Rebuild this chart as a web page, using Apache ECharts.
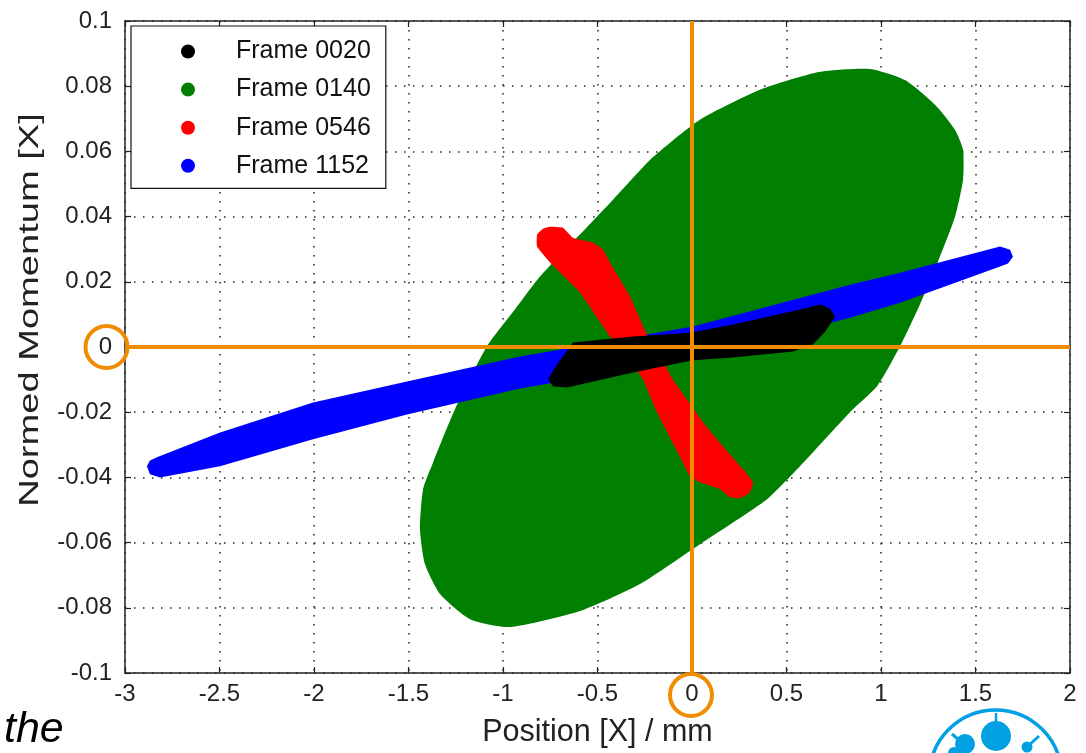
<!DOCTYPE html>
<html>
<head>
<meta charset="utf-8">
<script src="https://cdn.jsdelivr.net/npm/echarts@6/dist/echarts.min.js"></script>
<style>
html,body{margin:0;padding:0;background:#fff;}
#chart{width:1086px;height:753px;}
</style>
</head>
<body>
<div id="chart"></div>
<script>
// ---- data ----
const seriesNames = ['Frame 0020', 'Frame 0140', 'Frame 0546', 'Frame 1152'];
const xTickLabels = ['-3', '-2.5', '-2', '-1.5', '-1', '-0.5', '0', '0.5', '1', '1.5', '2'];
const yTickLabels = ['-0.1', '-0.08', '-0.06', '-0.04', '-0.02', '0', '0.02', '0.04', '0.06', '0.08', '0.1'];
const xAxisTitle = 'Position [X] / mm';
const yAxisTitle = 'Normed Momentum [X]';
const xMin = -3, xMax = 2, xStep = 0.5;
const yMin = -0.1, yMax = 0.1, yStep = 0.02;

// Frame 0140 (green region outline)
const frame0140 = [
  [0.942, 0.0853], [1.127, 0.0819], [1.286, 0.0743], [1.392, 0.0666], [1.434, 0.0605],
  [1.434, 0.0513], [1.392, 0.0400], [1.302, 0.0262], [1.206, 0.0130], [1.101, 0.0002],
  [0.980, -0.0120], [0.836, -0.0200], [0.571, -0.0366], [0.397, -0.0467], [0.042, -0.0605],
  [-0.275, -0.0727], [-0.593, -0.0810], [-0.963, -0.0859], [-1.175, -0.0835], [-1.333, -0.0758],
  [-1.413, -0.0666], [-1.439, -0.0559], [-1.423, -0.0436], [-1.370, -0.0354], [-1.254, -0.0191],
  [-1.085, 0.0002], [-0.937, 0.0115], [-0.804, 0.0216], [-0.593, 0.0345], [-0.418, 0.0452],
  [-0.222, 0.0574], [0.042, 0.0697], [0.360, 0.0789], [0.677, 0.0844]
];
// Frame 1152 (blue band outline)
const frame1152 = [
  [-2.868, -0.0348], [-2.831, -0.0338], [-2.497, -0.0262], [-2.005, -0.0170], [-1.508, -0.0106],
  [-0.910, -0.0029], [0.005, 0.0063], [0.836, 0.0191], [1.101, 0.0228], [1.630, 0.0308],
  [1.683, 0.0298], [1.698, 0.0277], [1.672, 0.0256], [1.630, 0.0247], [1.101, 0.0136],
  [0.836, 0.0090], [0.005, -0.0035], [-0.910, -0.0127], [-1.508, -0.0207], [-2.005, -0.0283],
  [-2.497, -0.0366], [-2.815, -0.0400], [-2.868, -0.0390], [-2.884, -0.0366]
];
// Frame 0546 (red band outline)
const frame0546 = [
  [-0.751, 0.0369], [-0.683, 0.0366], [-0.630, 0.0335], [-0.524, 0.0320], [-0.471, 0.0299],
  [-0.434, 0.0259], [-0.328, 0.0155], [-0.238, 0.0038], [-0.159, -0.0038], [-0.101, -0.0100],
  [0.058, -0.0231], [0.164, -0.0305], [0.270, -0.0375], [0.323, -0.0415], [0.307, -0.0446],
  [0.254, -0.0464], [0.201, -0.0461], [0.148, -0.0436], [0.042, -0.0415], [-0.011, -0.0397],
  [-0.048, -0.0354], [-0.185, -0.0201], [-0.259, -0.0100], [-0.328, -0.0038], [-0.434, 0.0032],
  [-0.593, 0.0167], [-0.751, 0.0259], [-0.820, 0.0308], [-0.820, 0.0345], [-0.788, 0.0363]
];
// Frame 0020 (black region outline)
const frame0020 = [
  [-0.630, 0.0014], [-0.312, 0.0032], [-0.011, 0.0044], [0.217, 0.0069], [0.571, 0.0115],
  [0.677, 0.0130], [0.730, 0.0118], [0.757, 0.0093], [0.704, 0.0047], [0.640, 0.0008],
  [0.534, -0.0014], [0.217, -0.0032], [0.005, -0.0041], [-0.312, -0.0078], [-0.661, -0.0124],
  [-0.735, -0.0121], [-0.762, -0.0100], [-0.714, -0.0054]
];
// highlighted zero lines: [x1, y1, x2, y2]
const zeroLines = [[0, -0.1, 0, 0.1], [-3, 0, 2, 0]];

const colors = { 'Frame 0020': '#000000', 'Frame 0140': '#007F00', 'Frame 0546': '#FF0000', 'Frame 1152': '#0000FF' };
const smoothing = { 'Frame 0020': 0, 'Frame 0140': 0.2, 'Frame 0546': 0.1, 'Frame 1152': 0 };
const orange = '#F08C00';
const FONT = "'Liberation Sans', Arial, sans-serif";

function polySeries(name, pts, z) {
  return {
    name: name, type: 'custom', z: z,
    itemStyle: { color: colors[name] },
    data: pts,
    encode: { x: 0, y: 1 },
    renderItem: function (params, api) {
      if (params.dataIndex !== 0) return null;
      const p = pts.map(function (d) { return api.coord(d); });
      return { type: 'polygon', shape: { points: p, smooth: smoothing[name] }, style: { fill: colors[name] } };
    },
    silent: true
  };
}

const chart = echarts.init(document.getElementById('chart'), null, { renderer: 'canvas' });
const gridCfg = { left: 125, right: 16, top: 21, bottom: 79 };

const axisCommon = {
  axisLine: { show: true, onZero: false, lineStyle: { color: '#222', width: 1.5 } },
  axisTick: { show: true, inside: true, length: 6, lineStyle: { color: '#222', width: 1.2 } },
  splitLine: { show: false }
};

const option = {
  animation: false,
  backgroundColor: '#fff',
  grid: gridCfg,
  legend: {
    data: seriesNames.map(function (n) { return { name: n, icon: 'circle', itemStyle: { color: colors[n] } }; }),
    orient: 'vertical',
    left: 131, top: 26,
    padding: [13, 15, 10, 50],
    itemWidth: 86, itemHeight: 14, itemGap: 13.1,
    backgroundColor: '#fff',
    borderColor: '#111', borderWidth: 1.2,
    selectedMode: false,
    textStyle: { fontFamily: FONT, fontSize: 25, color: '#111', lineHeight: 25 }
  },
  xAxis: [
    Object.assign({}, axisCommon, {
      type: 'value', min: xMin, max: xMax, interval: xStep, position: 'bottom',
      name: xAxisTitle, nameLocation: 'middle', nameGap: 44,
      nameTextStyle: { fontFamily: FONT, fontSize: 30.5, color: '#222' },
      axisLabel: { margin: 9, fontFamily: FONT, fontSize: 24, color: '#222',
        formatter: function (v) { return xTickLabels[Math.round((v - xMin) / xStep)]; } },
      splitLine: { show: true, lineStyle: { color: '#222', width: 1.5, type: [1.5, 7.5] } }
    }),
    Object.assign({}, axisCommon, {
      type: 'value', min: xMin, max: xMax, interval: xStep, position: 'top',
      axisLabel: { show: false }
    })
  ],
  yAxis: [
    Object.assign({}, axisCommon, {
      type: 'value', min: yMin, max: yMax, interval: yStep, position: 'left',
      axisLabel: { margin: 13, fontFamily: FONT, fontSize: 24, color: '#222',
        formatter: function (v) { return yTickLabels[Math.round((v - yMin) / yStep)]; } },
      splitLine: { show: true, lineStyle: { color: '#222', width: 1.5, type: [1.5, 7.5] } }
    }),
    Object.assign({}, axisCommon, {
      type: 'value', min: yMin, max: yMax, interval: yStep, position: 'right',
      axisLabel: { show: false }
    })
  ],
  series: [
    polySeries('Frame 0140', frame0140, 2),
    polySeries('Frame 1152', frame1152, 3),
    polySeries('Frame 0546', frame0546, 4),
    polySeries('Frame 0020', frame0020, 5),
    {
      name: 'zero', type: 'custom', z: 8, silent: true,
      data: zeroLines,
      encode: { x: [0, 2], y: [1, 3] },
      renderItem: function (params, api) {
        const a = api.coord([api.value(0), api.value(1)]);
        const b = api.coord([api.value(2), api.value(3)]);
        return { type: 'line', shape: { x1: a[0], y1: a[1], x2: b[0], y2: b[1] },
          style: { stroke: orange, lineWidth: 4 } };
      }
    }
  ]
};
chart.setOption(option);

// annotations positioned via the chart's own scales
const pY0 = chart.convertToPixel({ gridIndex: 0 }, [xMin, 0]);
const pX0 = chart.convertToPixel({ gridIndex: 0 }, [0, yMin]);
chart.setOption({
  graphic: [
    // y axis title (vertically stretched like the source image)
    { type: 'text', z: 100, x: 30, y: 310, rotation: Math.PI / 2, scaleX: 1.36,
      style: { text: yAxisTitle, fontFamily: FONT, fontSize: 28, fill: '#222', align: 'center', verticalAlign: 'middle' } },
    { type: 'circle', z: 100, shape: { cx: pY0[0] - 18.5, cy: pY0[1], r: 21 },
      style: { fill: 'none', stroke: orange, lineWidth: 4 } },
    { type: 'circle', z: 100, shape: { cx: pX0[0] - 1, cy: pX0[1] + 22, r: 21 },
      style: { fill: 'none', stroke: orange, lineWidth: 4 } },
    { type: 'text', z: 100, left: 4, top: 709,
      style: { text: 'the', fontFamily: FONT, fontSize: 43, fontStyle: 'italic', fill: '#000' } },
    // logo (decoration, bottom right)
    { type: 'circle', z: 100, shape: { cx: 995.5, cy: 776, r: 66 },
      style: { fill: 'none', stroke: '#00A0E3', lineWidth: 3.5 } },
    { type: 'circle', z: 100, shape: { cx: 996, cy: 736, r: 15 }, style: { fill: '#00A0E3' } },
    { type: 'line', z: 100, shape: { x1: 996, y1: 713, x2: 996, y2: 722 }, style: { stroke: '#00A0E3', lineWidth: 2.5 } },
    { type: 'circle', z: 100, shape: { cx: 965, cy: 744, r: 10 }, style: { fill: '#00A0E3' } },
    { type: 'line', z: 100, shape: { x1: 952, y1: 734, x2: 960, y2: 741 }, style: { stroke: '#00A0E3', lineWidth: 3 } },
    { type: 'circle', z: 100, shape: { cx: 1027, cy: 747, r: 5.5 }, style: { fill: '#00A0E3' } },
    { type: 'line', z: 100, shape: { x1: 1027, y1: 747, x2: 1039, y2: 736 }, style: { stroke: '#00A0E3', lineWidth: 3 } },
    { type: 'circle', z: 100, shape: { cx: 954, cy: 753, r: 6 }, style: { fill: '#00A0E3' } }
  ]
});
</script>
</body>
</html>
